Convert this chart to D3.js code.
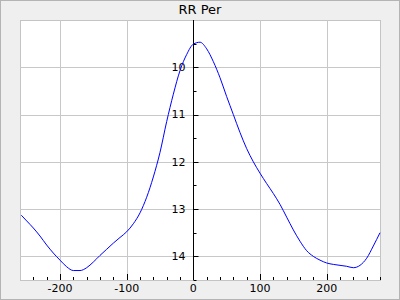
<!DOCTYPE html>
<html>
<head>
<meta charset="utf-8">
<script src="https://cdn.jsdelivr.net/npm/d3@7"></script>
<style>
  body { margin: 0; background: #fff; }
  svg { display: block; }
</style>
</head>
<body>
<div id="chart"></div>
<script>
// values
var title = "RR Per";
var lagX = [-258, -250, -240, -230, -220, -210, -200, -190, -180, -170, -160, -150, -140, -130,
            -120, -110, -100, -90, -80, -70, -60, -50, -40, -30, -20, -10, 0, 10, 20, 30, 40,
            50, 60, 70, 80, 90, 100, 110, 120, 130, 140, 150, 160, 170, 180, 190, 200, 210,
            220, 230, 240, 250, 260, 270, 280];
var rrPer = [13.13, 13.25, 13.40, 13.57, 13.76, 13.93, 14.08, 14.22, 14.30, 14.30, 14.24, 14.12,
             13.98, 13.85, 13.72, 13.60, 13.48, 13.31, 13.08, 12.75, 12.32, 11.80, 11.15, 10.57,
             10.07, 9.73, 9.51, 9.47, 9.61, 9.88, 10.22, 10.62, 11.00, 11.38, 11.72, 12.00,
             12.24, 12.46, 12.67, 12.90, 13.17, 13.44, 13.68, 13.88, 14.00, 14.08, 14.14, 14.17,
             14.19, 14.21, 14.24, 14.19, 14.04, 13.78, 13.50];
var xTicks = [-200, -100, 0, 100, 200];
var yTicks = [10, 11, 12, 13, 14];
var xDomain = [-260, 280];
var yDomain = [9, 14.5];

var W = 400, H = 300;
var margin = { top: 20, right: 20, bottom: 20, left: 20 };
var width = W - margin.left - margin.right;
var height = H - margin.top - margin.bottom;

var svg = d3.select("#chart").append("svg")
    .attr("width", W)
    .attr("height", H)
    .style("font-family", "DejaVu Sans");

svg.append("rect")
    .attr("x", 0.5).attr("y", 0.5)
    .attr("width", W - 1).attr("height", H - 1)
    .style("fill", "#efefef")
    .style("stroke", "#b4b4b4");

svg.append("text")
    .attr("x", W / 2)
    .attr("y", 14)
    .attr("text-anchor", "middle")
    .style("font-size", "13px")
    .text(title);

var g = svg.append("g")
    .attr("transform", "translate(" + margin.left + "," + margin.top + ")");

var x = d3.scaleLinear().domain(xDomain).range([0, width]);
var y = d3.scaleLinear().domain(yDomain).range([0, height]);

g.append("rect")
    .attr("x", 0.5).attr("y", 0.5)
    .attr("width", width).attr("height", height)
    .style("fill", "#fff")
    .style("stroke", "#c4c4c4");

// grid
g.selectAll(".vgrid").data(xTicks.filter(d => d != 0)).enter().append("line")
    .attr("x1", d => Math.round(x(d)) + 0.5).attr("x2", d => Math.round(x(d)) + 0.5)
    .attr("y1", 0).attr("y2", height)
    .style("stroke", "#c8c8c8");
g.selectAll(".hgrid").data(yTicks).enter().append("line")
    .attr("x1", 0).attr("x2", width)
    .attr("y1", d => Math.round(y(d)) + 0.5).attr("y2", d => Math.round(y(d)) + 0.5)
    .style("stroke", "#c8c8c8");

// x axis ticks, pointing up from the bottom edge
var xMinor = d3.range(-240, 281, 20);
g.selectAll(".xtick").data(xMinor).enter().append("line")
    .attr("x1", d => Math.round(x(d)) + 0.5).attr("x2", d => Math.round(x(d)) + 0.5)
    .attr("y1", height)
    .attr("y2", d => height - (d % 100 == 0 ? 6 : 3))
    .style("stroke", "#000");

g.selectAll(".xlab").data(xTicks).enter().append("text")
    .attr("x", d => x(d))
    .attr("y", height + 12)
    .attr("text-anchor", "middle")
    .style("font-size", "11px")
    .text(d => d);

// y axis at x = 0
var x0 = Math.round(x(0)) + 0.5;
g.append("line")
    .attr("x1", x0).attr("x2", x0)
    .attr("y1", 0).attr("y2", height)
    .style("stroke", "#000");

var yMinor = d3.range(9.5, 14.51, 0.5);
g.selectAll(".ytick").data(yMinor).enter().append("line")
    .attr("x1", x0)
    .attr("x2", d => x0 + (d % 1 == 0 ? 5 : 3))
    .attr("y1", d => Math.round(y(d)) + 0.5).attr("y2", d => Math.round(y(d)) + 0.5)
    .style("stroke", "#000");

g.selectAll(".ylab").data(yTicks).enter().append("text")
    .attr("x", x0 - 8)
    .attr("y", d => y(d))
    .attr("dy", "0.35em")
    .attr("text-anchor", "end")
    .style("font-size", "11px")
    .text(d => d);

// the trace
var pts = lagX.map((v, i) => [v, rrPer[i]]);
g.append("path")
    .datum(pts)
    .attr("d", d3.line().x(d => x(d[0])).y(d => y(d[1])).curve(d3.curveMonotoneX))
    .style("fill", "none")
    .style("stroke", "#0000ff")
    .style("stroke-width", 1);
</script>
</body>
</html>
